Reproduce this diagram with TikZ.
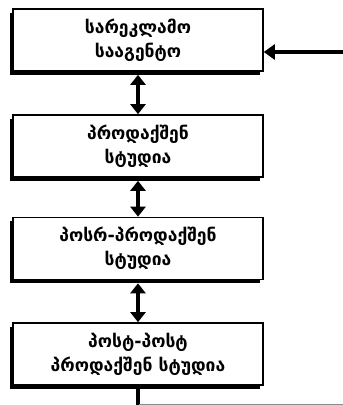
\documentclass[tikz,border=0pt]{standalone}
\usepackage{fontspec}
\newfontfamily\geofont[Script=Georgian]{DejaVu Sans}
\usetikzlibrary{arrows.meta,shadows}
\tikzset{
  stagebox/.style={draw, line width=1.6pt, fill=white,
    minimum width=250pt, minimum height=62pt, inner sep=0pt,
    align=center, font=\geofont\bfseries\fontsize{17.5}{24}\selectfont,
    general shadow={fill=black, shadow xshift=-3.5pt, shadow yshift=-3.5pt}},
  link/.style={line width=4pt, {Triangle[width=15pt,length=10pt]}-{Triangle[width=15pt,length=10pt]}},
  feed/.style={line width=3.5pt, -{Triangle[width=15pt,length=11pt]}},
  tail/.style={line width=3.5pt},
  baseline rule/.style={line width=0.8pt, draw=black!45}
}
\begin{document}
\begin{tikzpicture}[x=1pt,y=-1pt]
\useasboundingbox (0,0) rectangle (343,405);
\node[stagebox] (agency) at (138,40) {სარეკლამო\\სააგენტო};
\node[stagebox] (prod) at (138,146) {პროდაქშენ\\სტუდია};
\node[stagebox] (post) at (138,248.5) {პოსრ-პროდაქშენ\\სტუდია};
\node[stagebox] (postpost) at (138,354) {პოსტ-პოსტ\\პროდაქშენ სტუდია};
\coordinate (src) at (343,52);
\coordinate (down) at (138,405);
\coordinate (corner) at (139,404);
\coordinate (edge) at (343,404);
\draw[link] ([yshift=-3pt]agency.south) -- (prod.north);
\draw[link] ([yshift=-3pt]prod.south) -- (post.north);
\draw[link] ([yshift=-3pt]post.south) -- (postpost.north);
\draw[feed] (src) -- (src -| agency.east);
\draw[tail] (postpost.south) -- (down);
\draw[baseline rule] (corner) -- (edge);
\end{tikzpicture}
\end{document}
